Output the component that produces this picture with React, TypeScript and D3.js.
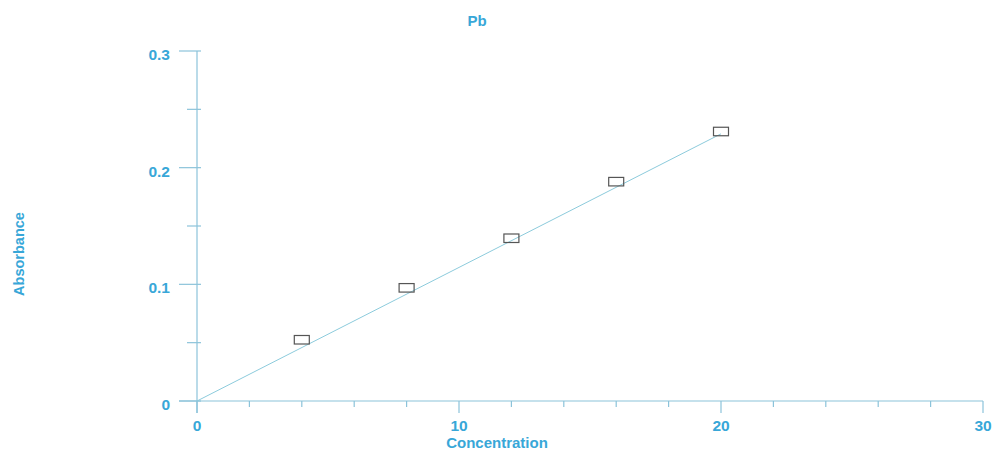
import React from "react";
import * as d3 from "d3";

// Pb calibration standards
const concentrations = [4, 8, 12, 16, 20];
const absorbances = [0.0525, 0.097, 0.1395, 0.188, 0.231];

// Calibration fit (through origin)
const fitX = [0, 20];
const fitY = [0, 0.229];

const xMajorTicks = [0, 10, 20, 30];
const xMinorTicks = d3.range(0, 31, 2);
const yMajorTicks = [0, 0.1, 0.2, 0.3];
const yMinorTicks = [0.05, 0.15, 0.25];

const W = 994;
const H = 452;
const textColor = "#38a7d8";
const axisColor = "#8cc3da";
const fitColor = "#8ccbdc";
const font = "'Liberation Sans', Arial, sans-serif";

export default function App() {
  const x = d3.scaleLinear().domain([0, 30]).range([197, 983]);
  const y = d3.scaleLinear().domain([0, 0.3]).range([401, 51]);
  const fitLine = d3
    .line<number>()
    .x((_, i) => x(fitX[i]))
    .y((d) => y(d));

  const boxW = 15;
  const boxH = 8.5;

  return (
    <svg
      width={W}
      height={H}
      style={{ position: "absolute", left: 0, top: 0, background: "#fff" }}
      fontFamily={font}
      fontWeight="bold"
      fontSize={15.5}
    >
      {/* title */}
      <text x={477} y={26} textAnchor="middle" fill={textColor} fontSize={15}>
        Pb
      </text>

      {/* axes */}
      <line x1={x(0)} x2={x(0)} y1={y(0.3)} y2={y(0) + 12} stroke={axisColor} strokeWidth={1.2} />
      <line x1={x(0) - 18} x2={x(30)} y1={y(0)} y2={y(0)} stroke={axisColor} strokeWidth={1.2} />

      {/* x ticks */}
      {xMinorTicks.map((t) => (
        <line
          key={"xm" + t}
          x1={x(t)}
          x2={x(t)}
          y1={y(0)}
          y2={y(0) + (xMajorTicks.includes(t) ? 12 : 6)}
          stroke={axisColor}
          strokeWidth={1.2}
        />
      ))}
      {xMajorTicks.map((t) => (
        <text key={"xl" + t} x={x(t)} y={431} textAnchor="middle" fill={textColor}>
          {t}
        </text>
      ))}

      {/* y ticks */}
      {yMinorTicks.map((t) => (
        <line
          key={"ym" + t}
          x1={x(0) - 10}
          x2={x(0) + 4}
          y1={y(t)}
          y2={y(t)}
          stroke={axisColor}
          strokeWidth={1.2}
        />
      ))}
      {yMajorTicks.map((t) => (
        <line
          key={"yM" + t}
          x1={x(0) - 18}
          x2={x(0) + 4}
          y1={y(t)}
          y2={y(t)}
          stroke={axisColor}
          strokeWidth={1.2}
        />
      ))}
      {yMajorTicks.map((t) => (
        <text key={"yl" + t} x={170} y={y(t) + 9} textAnchor="end" fill={textColor}>
          {t === 0 ? "0" : d3.format(".1f")(t)}
        </text>
      ))}

      {/* axis titles */}
      <text x={497} y={448} textAnchor="middle" fill={textColor} fontSize={15}>
        Concentration
      </text>
      <text
        transform={`translate(24, 254) rotate(-90)`}
        textAnchor="middle"
        fill={textColor}
        fontSize={14.5}
      >
        Absorbance
      </text>

      {/* fit line */}
      <path d={fitLine(fitY) || ""} fill="none" stroke={fitColor} strokeWidth={1} />

      {/* standards */}
      {concentrations.map((c, i) => (
        <rect
          key={"p" + i}
          x={x(c) - boxW / 2}
          y={y(absorbances[i]) - boxH / 2}
          width={boxW}
          height={boxH}
          fill="none"
          stroke="#555"
          strokeWidth={1.2}
        />
      ))}
    </svg>
  );
}
